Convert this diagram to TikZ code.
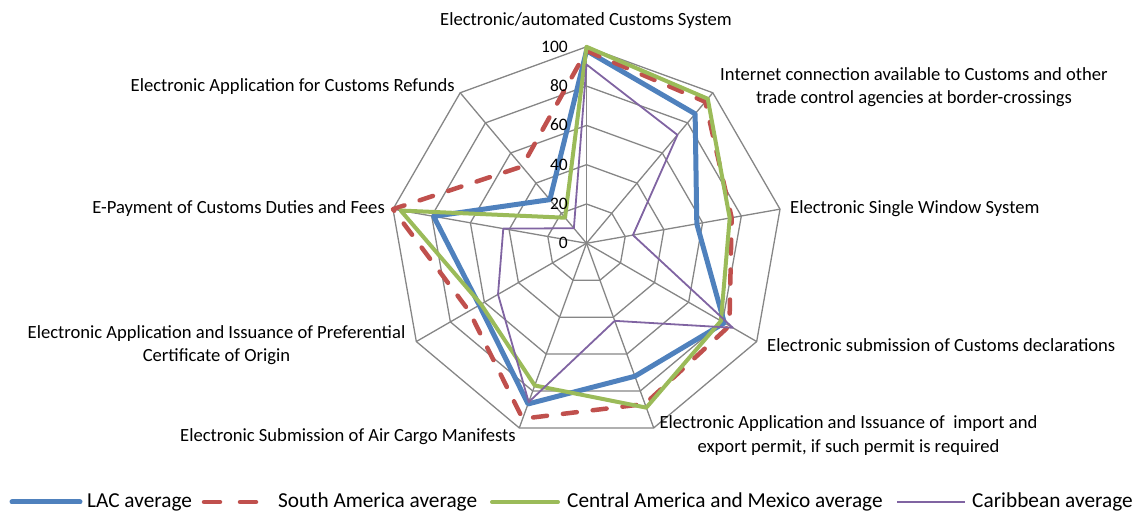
\documentclass[tikz,border=0pt]{standalone}
\usepackage{fontspec}
\setmainfont{Carlito}
\definecolor{lacblue}{HTML}{4F81BD}
\definecolor{sared}{HTML}{C0504D}
\definecolor{camgreen}{HTML}{9BBB59}
\definecolor{carpurple}{HTML}{8064A2}
\definecolor{gridgray}{HTML}{868686}
\begin{document}
\begin{tikzpicture}[x=1pt,y=1pt,font=\fontsize{18.6}{23.5}\selectfont,
  gridline/.style={draw=gridgray,line width=1.3pt},
  lacline/.style={draw=lacblue,line width=5pt,line join=round},
  saline/.style={draw=sared,line width=4.5pt,line join=round,line cap=round,dash pattern=on 14pt off 16pt},
  camline/.style={draw=camgreen,line width=4pt,line join=round},
  carline/.style={draw=carpurple,line width=1.8pt,line join=round},
  axlabel/.style={inner sep=0pt,text=black},
  legtext/.style={inner sep=0pt,text=black,anchor=base west,font=\fontsize{21.3}{25}\selectfont},
  tick/.style={inner sep=0pt,anchor=east,text=black,font=\fontsize{17.5}{21}\selectfont}]
\useasboundingbox (0,0) rectangle (1136,513);
\coordinate (O) at (586.5,269.7);
\begin{scope}[shift={(O)}]
  % rings
  \foreach \k in {1,...,5}
    \draw[gridline] (90:\k*39.3) \foreach \a in {50,10,-30,-70,-110,-150,-190,-230} { -- (\a:\k*39.3) } -- cycle;
  % spokes
  \foreach \a [count=\i] in {90,50,10,-30,-70,-110,-150,-190,-230}
    \coordinate (v\i) at (\a:196.5);
  \foreach \i in {1,...,9} \draw[gridline] (0,0) -- (v\i);
  % data series
  \draw[lacline] (90:98*1.965) -- (50:86*1.965) -- (10:57*1.965) -- (-30:81*1.965) -- (-70:72*1.965) -- (-110:87*1.965) -- (-150:63*1.965) -- (-190:79*1.965) -- (-230:29*1.965) -- cycle;
  \draw[saline] (90:98*1.965) -- (50:94*1.965) -- (10:75*1.965) -- (-30:84*1.965) -- (-70:87*1.965) -- (-110:95*1.965) -- (-150:69*1.965) -- (-190:100*1.965) -- (-230:51*1.965) -- cycle;
  \draw[camline] (90:100*1.965) -- (50:96*1.965) -- (10:74*1.965) -- (-30:79*1.965) -- (-70:89*1.965) -- (-110:77*1.965) -- (-150:62*1.965) -- (-190:96*1.965) -- (-230:17*1.965) -- cycle;
  \draw[carline] (90:91*1.965) -- (50:72*1.965) -- (10:24*1.965) -- (-30:86*1.965) -- (-70:42*1.965) -- (-110:86*1.965) -- (-150:52*1.965) -- (-190:43*1.965) -- (-230:10*1.965) -- cycle;
\end{scope}
% tick labels
\node[tick] (t100) at (568,466.5) {100};
\node[tick] (t80) at (568,427.2) {80};
\node[tick] (t60) at (568,387.9) {60};
\node[tick] (t40) at (568,348.6) {40};
\node[tick] (t20) at (568,309.3) {20};
\node[tick] (t0) at (568,270) {0};
% axis labels
\node[axlabel] (l1) at (586,492.5) {Electronic/automated Customs System};
\node[axlabel,align=center] (l2) at (914,426) {Internet connection available to Customs and other\\trade control agencies at border-crossings};
\node[axlabel,anchor=west] (l3) at (790,304.5) {Electronic Single Window System};
\node[axlabel,anchor=west] (l4) at (767,167.5) {Electronic submission of Customs declarations};
\node[axlabel,align=center] (l5) at (848.5,77.5) {Electronic Application and Issuance of\ \ import and\\export permit, if such permit is required};
\node[axlabel,anchor=east] (l6) at (516,76.5) {Electronic Submission of Air Cargo Manifests};
\node[axlabel,align=center] (l7) at (216.5,168) {Electronic Application and Issuance of Preferential\\Certificate of Origin};
\node[axlabel,anchor=east] (l8) at (385,304.5) {E-Payment of Customs Duties and Fees};
\node[axlabel,anchor=east] (l9) at (455,426) {Electronic Application for Customs Refunds};
% legend
\coordinate (a1) at (12,11); \coordinate (b1) at (80,11);
\draw[lacline,line cap=round] (a1) -- (b1);
\node[legtext] (g1) at (87,5.5) {LAC average};
\coordinate (a2) at (204,11); \coordinate (b2) at (256,11);
\draw[saline,dash pattern=on 16pt off 20pt] (a2) -- (b2);
\node[legtext] (g2) at (278,5.5) {South America average};
\coordinate (a3) at (492,11); \coordinate (b3) at (558,11);
\draw[camline,line cap=round] (a3) -- (b3);
\node[legtext] (g3) at (567,5.5) {Central America and Mexico average};
\coordinate (a4) at (897,11); \coordinate (b4) at (965,11);
\draw[carline] (a4) -- (b4);
\node[legtext] (g4) at (972,5.5) {Caribbean average};
\end{tikzpicture}
\end{document}
